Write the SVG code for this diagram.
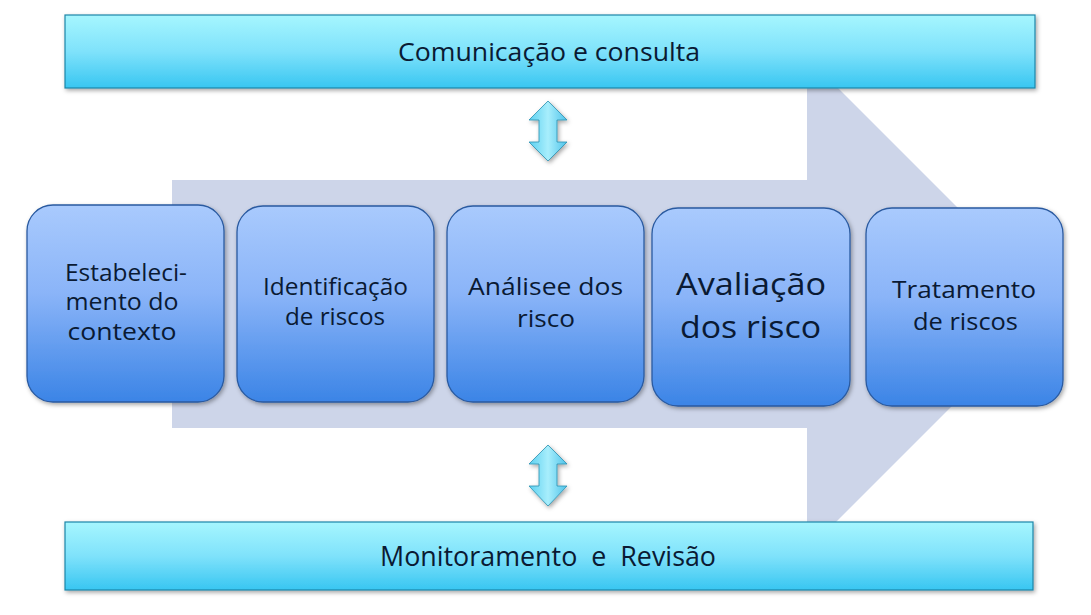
<svg xmlns="http://www.w3.org/2000/svg" width="1091" height="615" viewBox="0 0 1091 615">
<defs>
<linearGradient id="barG" x1="0" y1="0" x2="0" y2="1">
<stop offset="0" stop-color="#a6f6fe"/>
<stop offset="0.5" stop-color="#7fe2fb"/>
<stop offset="1" stop-color="#38c6f1"/>
</linearGradient>
<linearGradient id="boxG" x1="0" y1="0" x2="0" y2="1">
<stop offset="0" stop-color="#a9cafd"/>
<stop offset="0.45" stop-color="#8ab4f8"/>
<stop offset="1" stop-color="#3b84e6"/>
</linearGradient>
<linearGradient id="dArrG" x1="0" y1="0" x2="1" y2="0">
<stop offset="0" stop-color="#5cd0f0"/>
<stop offset="0.5" stop-color="#a8eefc"/>
<stop offset="1" stop-color="#4fc3ea"/>
</linearGradient>
<filter id="sh" x="-10%" y="-10%" width="130%" height="130%">
<feDropShadow dx="1.5" dy="2" stdDeviation="2" flood-color="#000" flood-opacity="0.35"/>
</filter>
</defs>
<style>
.bar{fill:url(#barG);stroke:#1b86a8;stroke-width:1.2}
.box{fill:url(#boxG);stroke:#2a5aa0;stroke-width:1.3}
.t{font-family:"Open Sans","Liberation Sans",sans-serif;fill:#0a1a33;text-anchor:middle}
.dar{fill:url(#dArrG);stroke:#2a8fb0;stroke-width:0.8}
</style>
<rect width="1091" height="615" fill="#ffffff"/>
<g id="bigArrow">
<polygon points="172,180 807,180 807,57 1054,304 807,551 807,428 172,428" fill="#cdd5e9"/>
</g>
<g id="comunicacao">
<rect class="bar" x="65" y="15" width="970" height="73" filter="url(#sh)"/>
<text class="t" x="549" y="61" font-size="25.5" textLength="302" lengthAdjust="spacingAndGlyphs">Comunicação e consulta</text>
</g>
<g id="monitoramento">
<rect class="bar" x="65" y="522" width="968" height="68" filter="url(#sh)"/>
<text class="t" x="548" y="566" font-size="27" textLength="336" lengthAdjust="spacingAndGlyphs" xml:space="preserve">Monitoramento  e  Revisão</text>
</g>
<g id="connectors">
<polygon class="dar" filter="url(#sh)" points="548,101 567,120 557,120 557,142 567,142 548,161 529,142 539,142 539,120 529,120"/>
<polygon class="dar" filter="url(#sh)" points="548,445 567,464 557,464 557,486 567,486 548,506 529,486 539,486 539,464 529,464"/>
</g>
<g id="estabelecimento">
<rect class="box" x="27" y="205" width="197" height="197" rx="26" filter="url(#sh)"/>
<text class="t" font-size="23.5"><tspan x="126" y="281" textLength="122" lengthAdjust="spacingAndGlyphs">Estabeleci-</tspan><tspan x="122" y="310" textLength="113" lengthAdjust="spacingAndGlyphs">mento do</tspan><tspan x="122" y="340" textLength="109" lengthAdjust="spacingAndGlyphs">contexto</tspan></text>
</g>
<g id="identificacao">
<rect class="box" x="237" y="206" width="197" height="196" rx="26" filter="url(#sh)"/>
<text class="t" font-size="24.5"><tspan x="335.5" y="295" textLength="145" lengthAdjust="spacingAndGlyphs">Identificação</tspan><tspan x="335" y="325" textLength="100" lengthAdjust="spacingAndGlyphs">de riscos</tspan></text>
</g>
<g id="analise">
<rect class="box" x="447" y="206" width="197" height="196" rx="26" filter="url(#sh)"/>
<text class="t" font-size="24.5"><tspan x="545.5" y="295" textLength="155" lengthAdjust="spacingAndGlyphs">Análisee dos</tspan><tspan x="546" y="327" textLength="58" lengthAdjust="spacingAndGlyphs">risco</tspan></text>
</g>
<g id="avaliacao">
<rect class="box" x="652" y="208" width="198" height="198" rx="26" filter="url(#sh)"/>
<text class="t" font-size="31.5"><tspan x="751" y="295" textLength="150" lengthAdjust="spacingAndGlyphs">Avaliação</tspan><tspan x="750.5" y="338" textLength="141" lengthAdjust="spacingAndGlyphs">dos risco</tspan></text>
</g>
<g id="tratamento">
<rect class="box" x="866" y="208" width="197" height="198" rx="26" filter="url(#sh)"/>
<text class="t" font-size="24.5"><tspan x="964" y="298" textLength="144" lengthAdjust="spacingAndGlyphs">Tratamento</tspan><tspan x="965.5" y="330" textLength="105" lengthAdjust="spacingAndGlyphs">de riscos</tspan></text>
</g>
</svg>
